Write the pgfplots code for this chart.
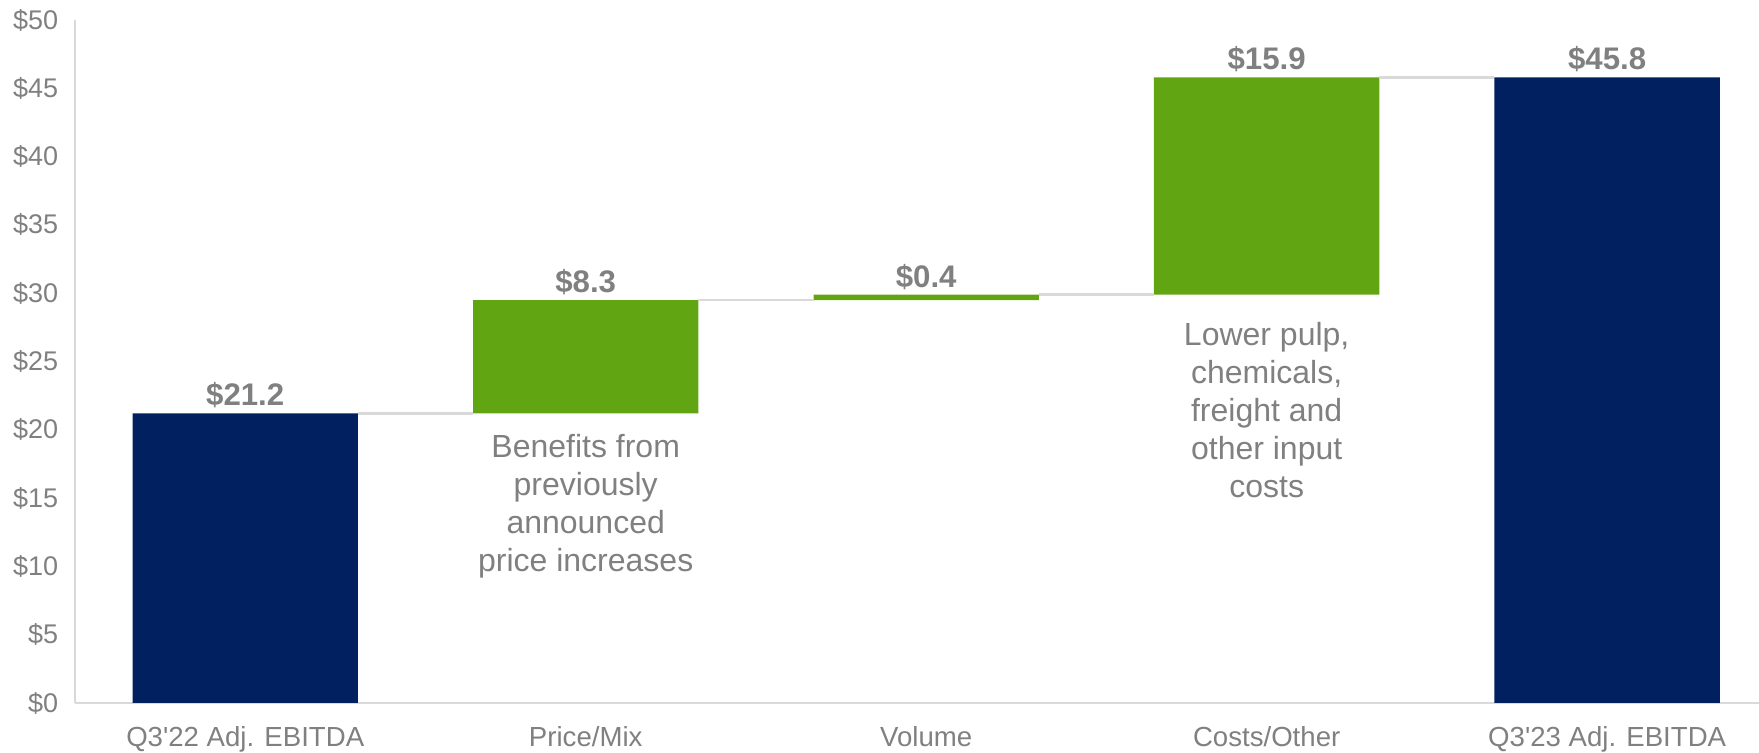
\documentclass[border=0pt]{standalone}
\usepackage{pgfplots}
\pgfplotsset{compat=1.18}
\usepackage{fontspec}
\setmainfont{Liberation Sans}
\definecolor{navy}{HTML}{002060}
\definecolor{grn}{HTML}{62A512}
\definecolor{txt}{HTML}{808080}
\definecolor{lgray}{HTML}{D9D9D9}
\pgfplotsset{frame/.style={scale only axis, width=842pt, height=341.5pt,
  xmin=-0.5, xmax=4.446, ymin=0, ymax=50, clip=false}}
\begin{document}
\begin{tikzpicture}
\begin{axis}[
  name=ax, frame,
  axis x line=bottom, axis y line=left,
  axis line style={-, draw=lgray, line width=1.3pt},
  ybar stacked, bar width=0.662,
  xtick={0,1,2,3,4},
  xticklabels={Q3\textquotesingle 22 Adj. EBITDA, Price/Mix, Volume, Costs/Other, Q3\textquotesingle 23 Adj. EBITDA},
  ytick={0,5,10,15,20,25,30,35,40,45,50},
  yticklabels={\$0,\$5,\$10,\$15,\$20,\$25,\$30,\$35,\$40,\$45,\$50},
  tick style={draw=none},
  xticklabel style={font=\fontsize{13.8}{16}\selectfont, text=txt, yshift=-6.2pt},
  yticklabel style={font=\fontsize{13.5}{15}\selectfont, text=txt, xshift=-2.8pt},
]
\addplot[draw=none, fill=none] coordinates {(0,0) (1,21.2) (2,29.5) (3,29.9) (4,0)};
\addplot[draw=none, fill=navy] coordinates {(0,21.2) (1,0) (2,0) (3,0) (4,45.8)};
\addplot[draw=none, fill=grn] coordinates {(0,0) (1,8.3) (2,0.4) (3,15.9) (4,0)};
\end{axis}
\begin{axis}[frame, hide axis]
\addplot[sharp plot, draw=lgray, line width=1.3pt] coordinates {(0.331,21.2) (0.669,21.2)};
\addplot[sharp plot, draw=lgray, line width=1.3pt] coordinates {(1.331,29.5) (1.669,29.5)};
\addplot[sharp plot, draw=lgray, line width=1.3pt] coordinates {(2.331,29.9) (2.669,29.9)};
\addplot[sharp plot, draw=lgray, line width=1.3pt] coordinates {(3.331,45.8) (3.669,45.8)};
\addplot[draw=none, mark=none, point meta=explicit symbolic, nodes near coords,
  every node near coord/.append style={font=\bfseries\fontsize{15.6}{18}\selectfont, text=txt, anchor=base, inner sep=0pt, yshift=3.7pt}]
  coordinates {(0,21.2)[\$21.2] (1,29.5)[\$8.3] (2,29.9)[\$0.4] (3,45.8)[\$15.9] (4,45.8)[\$45.8]};
\node[anchor=north, align=center, font=\fontsize{16}{19}\selectfont, text=txt, inner sep=0pt] at (axis cs:1,19.7) {Benefits from\\previously\\announced\\price increases};
\node[anchor=north, align=center, font=\fontsize{16}{19}\selectfont, text=txt, inner sep=0pt] at (axis cs:3,27.9) {Lower pulp,\\chemicals,\\freight and\\other input\\costs};
\end{axis}
\pgfresetboundingbox
\path[use as bounding box] ([xshift=-37.5pt,yshift=-25pt]ax.south west) rectangle ([yshift=10pt]ax.north east);
\end{tikzpicture}
\end{document}
